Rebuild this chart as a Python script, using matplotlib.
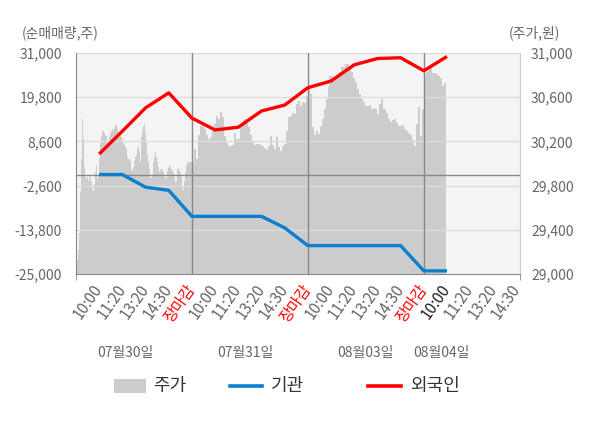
import numpy as np
import matplotlib
matplotlib.use("Agg")
import matplotlib.pyplot as plt
from matplotlib.lines import Line2D
from matplotlib.patches import Rectangle
from matplotlib.ticker import FuncFormatter

plt.rcParams["font.family"] = ["Noto Sans CJK KR", "DejaVu Sans"]

# ---------------------------------------------------------------------------
# Data
# ---------------------------------------------------------------------------

slot_labels = ["10:00", "11:20", "13:20", "14:30", "장마감"] * 3 + ["10:00", "11:20", "13:20", "14:30"]
date_labels = ["07월30일", "07월31일", "08월03일", "08월04일"]

# net buying (shares), one value per time slot 10:00 .. 08/04 10:00
foreign = [5400, 11200, 17100, 20900, 14500,
           11500, 12200, 16300, 17800, 22200,
           23900, 28000, 29600, 29800, 26500,
           30100]
institution = [200, 200, -3000, -3800, -10400,
               -10400, -10400, -10400, -13300, -17800,
               -17800, -17800, -17800, -17800, -24200,
               -24200]

# intraday price (won)
price_day1 = [29100, 29130, 29220, 29370, 29740, 30040, 30400, 30220, 29970, 29880,
              29860, 29880, 29840, 29880, 29870, 29830, 29780, 29750, 29810, 29920,
              29990, 29860, 29900, 30040, 30190, 30250, 30290, 30290, 30280, 30250,
              30200, 30190, 30240, 30280, 30290, 30310, 30290, 30330, 30340, 30360,
              30310, 30280, 30250, 30280, 30240, 30200, 30190, 30170, 30150, 30130,
              30060, 30040, 30020, 30040, 29950, 29930, 29970, 30020, 30060, 30080,
              30130, 30160, 30110, 30010, 30240, 30290, 30340, 30360, 30280, 30190,
              30080, 30010, 29950, 29870, 29870, 29900, 30010, 30060, 30100, 30060,
              30010, 29970, 29920, 29950, 29930, 29950, 29920, 29880, 29870, 29930,
              29960, 29990, 29970, 29950, 29930, 29920, 29880, 29830, 29840, 29950,
              29960, 29930, 29920, 29880, 29790, 29760, 29840, 29920, 29990, 30010,
              30010, 30010, 30010, 30010]
price_day2 = [30010, 30130, 30040, 30260, 30340, 30360, 30310, 30260, 30220, 30240,
              30290, 30360, 30430, 30400, 30470, 30420, 30250, 30190, 30160, 30160,
              30170, 30280, 30220, 30220, 30360, 30380, 30400, 30370, 30330, 30260,
              30200, 30170, 30180, 30180, 30170, 30160, 30140, 30120, 30160, 30250,
              30170, 30130, 30240, 30150, 30110, 30160, 30180, 30290, 30420, 30430,
              30460, 30450, 30540, 30570, 30520, 30560, 30550, 30610]
price_day3 = [30670, 30630, 30330, 30260, 30290, 30270, 30340, 30400, 30490, 30580,
              30690, 30790, 30790, 30750, 30770, 30780, 30830, 30870, 30870, 30900,
              30900, 30870, 30830, 30770, 30740, 30670, 30630, 30580, 30560, 30520,
              30520, 30530, 30490, 30500, 30490, 30450, 30540, 30580, 30490, 30490,
              30460, 30400, 30380, 30390, 30400, 30370, 30340, 30340, 30350, 30310,
              30290, 30280, 30260, 30210, 30160, 30360, 30510, 30250, 30490]
price_day4 = [30780, 30830, 30870, 30860, 30820, 30820, 30810, 30790, 30770, 30700,
              30730, 30770]

left_ticks = [-25000, -13800, -2600, 8600, 19800, 31000]
right_ticks = [29000, 29400, 29800, 30200, 30600, 31000]

# ---------------------------------------------------------------------------
# Layout
# ---------------------------------------------------------------------------

SLOTS_PER_DAY = 5
X_MAX = 19.15
date_label_px = [125, 245, 365, 441]

fig = plt.figure(figsize=(6, 4.28), dpi=100)
fig.patch.set_facecolor("white")

ax = fig.add_axes([76 / 600, 1 - 274 / 428, 444 / 600, 221 / 428])
ax2 = ax.twinx()
ax.set_zorder(ax2.get_zorder() + 1)
ax.patch.set_visible(False)
ax2.patch.set_visible(True)
ax2.patch.set_facecolor("#f4f4f4")

# price area on the right axis
xs, ps = [], []
for d, day in enumerate([price_day1, price_day2, price_day3]):
    xs.append(np.linspace(d * SLOTS_PER_DAY, (d + 1) * SLOTS_PER_DAY, len(day), endpoint=False))
    ps.append(np.array(day))
step4 = SLOTS_PER_DAY / len(price_day2)
xs.append(3 * SLOTS_PER_DAY + np.arange(len(price_day4)) * step4)
ps.append(np.array(price_day4))
x_price = np.concatenate(xs)
y_price = np.concatenate(ps)
ax2.fill_between(x_price, y_price, 29000, step="post", color="#cccccc", linewidth=0)
ax2.set_ylim(29000, 31000)
ax2.set_yticks(right_ticks)
ax2.yaxis.set_major_formatter(FuncFormatter(lambda v, p: f"{v:,.0f}"))
ax2.tick_params(axis="y", length=0, pad=8, labelsize=10, labelcolor="#666666")
for s in ["top", "left", "bottom"]:
    ax2.spines[s].set_visible(False)
ax2.spines["right"].set_color("#cccccc")

# grid + separators on the left axis
for v in left_ticks[1:]:
    ax.axhline(v, color="#dcdcdc", lw=1, zorder=1)
ax.axhline(0, color="#888888", lw=1, zorder=2)
for b in range(SLOTS_PER_DAY, 16, SLOTS_PER_DAY):
    ax.axvline(b, color="#888888", lw=1, zorder=2)

slots = np.arange(1, len(foreign) + 1)
ax.plot(slots, institution, color="#0b7fcf", lw=2.4, zorder=3, solid_capstyle="butt")
ax.plot(slots, foreign, color="#ff0000", lw=2.4, zorder=4, solid_capstyle="butt")

ax.set_xlim(0, X_MAX)
ax.set_ylim(-25000, 31000)
ax.set_yticks(left_ticks)
ax.yaxis.set_major_formatter(FuncFormatter(lambda v, p: f"{v:,.0f}"))
ax.tick_params(axis="y", length=0, pad=10, labelsize=10, labelcolor="#666666")

tick_pos = np.arange(1, len(slot_labels) + 1)
ax.set_xticks(tick_pos)
ax.set_xticklabels(slot_labels)
ax.set_xticks([0, 5, 10, 15, X_MAX], minor=True)
ax.tick_params(axis="x", which="major", length=0, pad=9, labelsize=11)
ax.tick_params(axis="x", which="minor", length=4, color="#888888")
for i, lbl in enumerate(ax.get_xticklabels()):
    lbl.set_rotation(55)
    lbl.set_ha("right")
    lbl.set_va("center")
    lbl.set_rotation_mode("anchor")
    if slot_labels[i] == "장마감":
        lbl.set_color("#ff0000")
    elif i == 15:
        lbl.set_color("#222222")
    else:
        lbl.set_color("#666666")

for s in ["top", "right"]:
    ax.spines[s].set_visible(False)
ax.spines["left"].set_color("#888888")
ax.spines["bottom"].set_color("#888888")

# date row, axis titles
for px, t in zip(date_label_px, date_labels):
    fig.text(px / 600, 1 - 353 / 428, t, ha="center", va="center", fontsize=10, color="#666666")
fig.text(22 / 600, 1 - 33 / 428, "(순매매량,주)", ha="left", va="center", fontsize=10, color="#666666")
fig.text(509 / 600, 1 - 33 / 428, "(주가,원)", ha="left", va="center", fontsize=10, color="#666666")

# legend
ly = 1 - 386 / 428
fig.add_artist(Rectangle((114 / 600, 1 - 393 / 428), 32 / 600, 14 / 428,
                         transform=fig.transFigure, color="#cccccc", lw=0))
fig.add_artist(Line2D([230 / 600, 262 / 600], [ly, ly], transform=fig.transFigure,
                      color="#0b7fcf", lw=2.6))
fig.add_artist(Line2D([368 / 600, 401 / 600], [ly, ly], transform=fig.transFigure,
                      color="#ff0000", lw=2.6))
for px, t in [(153, "주가"), (271, "기관"), (410, "외국인")]:
    fig.text(px / 600, ly, t, ha="left", va="center", fontsize=13, color="#333333")

fig.savefig("out.png", dpi=100)
